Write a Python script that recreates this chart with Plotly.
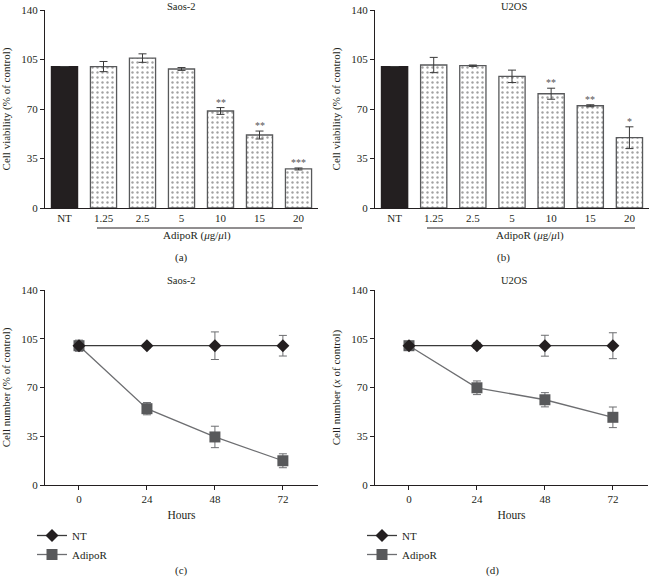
import plotly.graph_objects as go

# ---------------- data ----------------
bar_categories = ["NT", "1.25", "2.5", "5", "10", "15", "20"]
saos_viability = [100, 100, 106, 98.3, 68.6, 51.6, 27.6]
saos_viability_err = [0, 3.6, 3.0, 1.0, 2.4, 2.8, 0.7]
saos_stars = ["", "", "", "", "**", "**", "***"]

u2os_viability = [100, 101.1, 100.6, 93.1, 80.8, 72.3, 49.7]
u2os_viability_err = [0, 5.4, 0.5, 4.4, 3.9, 0.7, 7.7]
u2os_stars = ["", "", "", "", "**", "**", "*"]

hours = [0, 24, 48, 72]
saos_nt = [100, 100, 100, 100]
saos_nt_err = [0, 1.5, 9.9, 7.4]
saos_adipo = [100, 54.8, 34.5, 17.4]
saos_adipo_err = [4, 4.4, 7.7, 5]

u2os_nt = [100, 100, 100, 100]
u2os_nt_err = [0, 2, 7.5, 9.3]
u2os_adipo = [100, 69.8, 61.2, 48.6]
u2os_adipo_err = [1, 4.9, 5.1, 7.4]

y_ticks = [0, 35, 70, 105, 140]

# ---------------- style ----------------
FONT = "Liberation Serif, Times New Roman, serif"
TXT = "#231f20"
GRAY = "#58595b"
W, H = 650, 578

def px(x):
    return x / W

def py(y):
    return 1 - y / H

fig = go.Figure()

bar_colors = ["#231f20"] + ["white"] * (len(bar_categories) - 1)
bar_shapes = [""] + ["."] * (len(bar_categories) - 1)

for vals, errs, xa, ya in [
    (saos_viability, saos_viability_err, "x", "y"),
    (u2os_viability, u2os_viability_err, "x2", "y2"),
]:
    fig.add_trace(go.Bar(
        x=bar_categories, y=vals, xaxis=xa, yaxis=ya,
        marker=dict(color=bar_colors,
                    line=dict(color=[TXT] + [GRAY] * 6, width=1.3),
                    pattern=dict(shape=bar_shapes, fgcolor="#7a7a7a",
                                 bgcolor="white", size=5, solidity=0.18)),
        error_y=dict(type="data", array=errs, visible=True,
                     color="#3a3a3a", thickness=1, width=4),
        showlegend=False,
    ))

# star annotations
annotations = []
for vals, errs, stars, xa, ya in [
    (saos_viability, saos_viability_err, saos_stars, "x", "y"),
    (u2os_viability, u2os_viability_err, u2os_stars, "x2", "y2"),
]:
    for i, (v, e, s) in enumerate(zip(vals, errs, stars)):
        if s:
            annotations.append(dict(x=i, y=v + e, xref=xa, yref=ya, text=s,
                                    showarrow=False, yanchor="bottom", yshift=-2,
                                    font=dict(family=FONT, size=10, color="#555")))

# line charts
for nt, nte, ad, ade, xa, ya, leg in [
    (saos_nt, saos_nt_err, saos_adipo, saos_adipo_err, "x3", "y3", "legend"),
    (u2os_nt, u2os_nt_err, u2os_adipo, u2os_adipo_err, "x4", "y4", "legend2"),
]:
    fig.add_trace(go.Scatter(
        x=hours, y=ad, xaxis=xa, yaxis=ya, name="AdipoR", mode="lines+markers",
        line=dict(color="#6d6e71", width=1.3),
        marker=dict(symbol="square", size=11, color=GRAY),
        error_y=dict(type="data", array=ade, color="#6d6e71", thickness=1, width=4),
        legend=leg, legendrank=2,
    ))
    fig.add_trace(go.Scatter(
        x=hours, y=nt, xaxis=xa, yaxis=ya, name="NT", mode="lines+markers",
        line=dict(color="#3a3a3a", width=1.3),
        marker=dict(symbol="diamond", size=10, color=TXT),
        error_y=dict(type="data", array=nte, color="#6d6e71", thickness=1, width=4),
        legend=leg, legendrank=1,
    ))

axis_common = dict(showgrid=False, zeroline=False, showline=True, linecolor=TXT,
                   linewidth=1, automargin=False,
                   tickfont=dict(family=FONT, size=11, color=TXT))

yax = dict(axis_common, range=[0, 140], tickvals=y_ticks, ticks="outside",
           ticklen=4, tickcolor=TXT, title_font=dict(family=FONT, size=11, color=TXT),
           title_standoff=8)

xline = dict(axis_common, range=[-12, 84.4], tickvals=hours, ticks="outside",
             ticklen=4, tickcolor=TXT, title_text="Hours", title_standoff=6,
             title_font=dict(family=FONT, size=11.5, color=TXT))

# companion axes giving the crossing (inside) half of the hour ticks
xinside = dict(range=[-12, 84.4], tickvals=hours, ticks="inside", ticklen=4,
               tickcolor=TXT, showticklabels=False, showline=False,
               showgrid=False, zeroline=False, automargin=False)

legend_common = dict(xanchor="left", yanchor="top", bgcolor="rgba(0,0,0,0)",
                     font=dict(family=FONT, size=11, color=TXT),
                     tracegroupgap=0, itemwidth=30)

fig.update_layout(
    width=W, height=H, margin=dict(l=0, r=0, t=0, b=0, pad=0, autoexpand=False),
    paper_bgcolor="white", plot_bgcolor="white",
    bargap=0.33,
    font=dict(family=FONT, color=TXT),
    xaxis=dict(axis_common, domain=[px(45), px(318)], anchor="y",
               range=[-0.5, 6.5], ticks=""),
    yaxis=dict(yax, domain=[py(208), py(10)], anchor="x",
               title_text="Cell viability (% of control)"),
    xaxis2=dict(axis_common, domain=[px(375), px(649)], anchor="y2",
                range=[-0.5, 6.5], ticks=""),
    yaxis2=dict(yax, domain=[py(208), py(10)], anchor="x2",
                title_text="Cell viability (% of control)"),
    xaxis3=dict(xline, domain=[px(45), px(318)], anchor="y3"),
    yaxis3=dict(yax, domain=[py(485), py(290)], anchor="x3",
                title_text="Cell number (% of control)"),
    xaxis4=dict(xline, domain=[px(375), px(648)], anchor="y4"),
    yaxis4=dict(yax, domain=[py(485), py(290)], anchor="x4",
                title_text="Cell number (<i>x</i> of control)"),
    xaxis5=dict(xinside, overlaying="x3", anchor="y3"),
    xaxis6=dict(xinside, overlaying="x4", anchor="y4"),
    legend=dict(legend_common, x=px(32), y=py(521)),
    legend2=dict(legend_common, x=px(362), y=py(521)),
)

def label(x, y, text, size=11):
    annotations.append(dict(x=px(x), y=py(y), xref="paper", yref="paper", text=text,
                            showarrow=False, xanchor="center", yanchor="middle",
                            font=dict(family=FONT, size=size, color=TXT)))

label(181, 7, "Saos-2", 10.5)
label(514, 7, "U2OS", 10.5)
label(197, 235, "AdipoR (<i>μ</i>g/<i>μ</i>l)")
label(530, 235, "AdipoR (<i>μ</i>g/<i>μ</i>l)")
label(181, 257, "(a)")
label(503, 257, "(b)")
label(181, 280, "Saos-2", 10.5)
label(514, 280, "U2OS", 10.5)
label(181, 570, "(c)")
label(492, 570, "(d)")

fig.update_layout(annotations=annotations)

shapes = [
    dict(type="line", xref="paper", yref="paper", x0=px(97), x1=px(302),
         y0=py(228), y1=py(228), line=dict(color=TXT, width=1)),
    dict(type="line", xref="paper", yref="paper", x0=px(427), x1=px(635),
         y0=py(228), y1=py(228), line=dict(color=TXT, width=1)),
]
fig.update_layout(shapes=shapes)

fig.write_html("out.html", config={"displayModeBar": False},
               post_script="document.body.style.margin='0';document.body.style.overflow='hidden';")
